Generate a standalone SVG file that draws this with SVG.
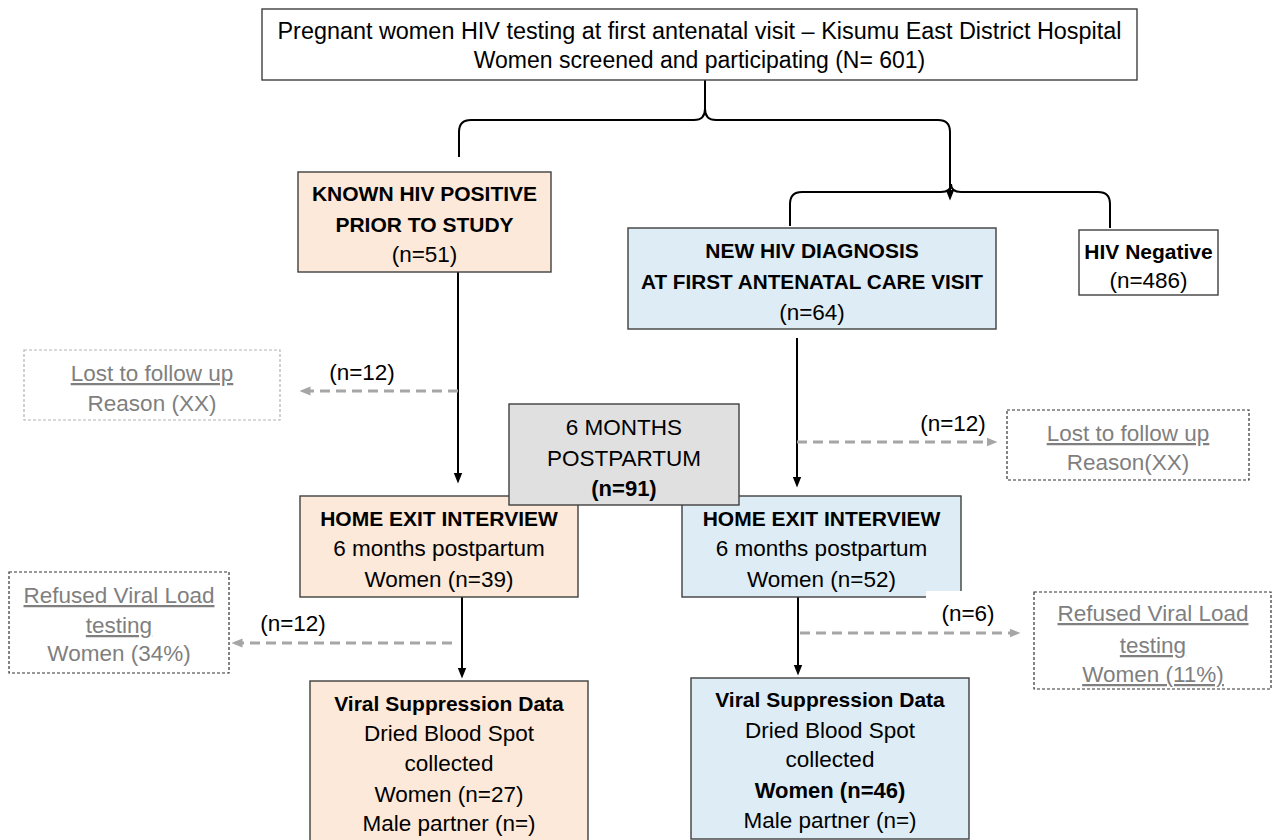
<svg xmlns="http://www.w3.org/2000/svg" width="1278" height="840" viewBox="0 0 1278 840">
<defs>
<style>
text{font-family:"Liberation Sans",Arial,sans-serif;font-size:22.5px;fill:#000;text-anchor:middle}
.b{font-weight:bold;font-size:21px}
.g{fill:#7f7f7f}
.u{text-decoration:underline}
.box{stroke:#3f3f3f;stroke-width:1.4}
.peach{fill:#fde9d9}
.blue{fill:#deedf5}
.white{fill:#fff}
.grey{fill:#e0e0e0}
.dl{fill:#fff;stroke:#b3b3b3;stroke-width:1.2;stroke-dasharray:3 2}
.dd{fill:#fff;stroke:#333;stroke-width:1.2;stroke-dasharray:3 2}
.solid{fill:none;stroke:#000;stroke-width:2}
.dash{fill:none;stroke:#a6a6a6;stroke-width:3;stroke-dasharray:10 6}
</style>
<marker id="ab" viewBox="0 0 10 10" refX="5" refY="5" markerUnits="userSpaceOnUse" markerWidth="11" markerHeight="11" orient="auto">
<path d="M0,1 L10,5 L0,9 z" fill="#000"/>
</marker>
<marker id="ag" viewBox="0 0 10 10" refX="5" refY="5" markerUnits="userSpaceOnUse" markerWidth="11" markerHeight="11" orient="auto">
<path d="M0,1 L10,5 L0,9 z" fill="#a6a6a6"/>
</marker>
</defs>
<rect width="1278" height="840" fill="#fff"/>

<g id="connectors">
<path class="solid" d="M705,80 V109 Q705,120 694,120 H471 Q459,120 459,132 V157"/>
<path class="solid" d="M705,109 Q705,120 716,120 H938 Q950,120 950,132 V195" marker-end="url(#ab)"/>
<path class="solid" d="M951,184 Q951,192 941,192 H802 Q790,192 790,204 V226"/>
<path class="solid" d="M951,184 Q951,192 961,192 H1098 Q1110,192 1110,204 V228"/>
<path class="solid" d="M458,272 V478" marker-end="url(#ab)"/>
<path class="dash" d="M458,391 H305" marker-end="url(#ag)"/>
<path class="solid" d="M797,338 V482" marker-end="url(#ab)"/>
<path class="dash" d="M797,442 H992" marker-end="url(#ag)"/>
<path class="solid" d="M462,592 V673" marker-end="url(#ab)"/>
<path class="dash" d="M452,643 H237" marker-end="url(#ag)"/>
<path class="solid" d="M798,587 V670" marker-end="url(#ab)"/>
<path class="dash" d="M800,633 H1015" marker-end="url(#ag)"/>
<text x="362" y="380">(n=12)</text>
<text x="953" y="431">(n=12)</text>
<text x="293" y="631">(n=12)</text>
<text x="968" y="621">(n=6)</text>
</g>

<g id="top">
<rect class="box white" x="262" y="9" width="875" height="71"/>
<text x="699.5" y="39" style="font-size:23px" textLength="844" lengthAdjust="spacingAndGlyphs">Pregnant women HIV testing at first antenatal visit – Kisumu East District Hospital</text>
<text x="699.5" y="68" style="font-size:23px">Women screened and participating (N= 601)</text>
</g>

<g id="known">
<rect class="box peach" x="298" y="172" width="253" height="100"/>
<text class="b" x="424.5" y="201">KNOWN HIV POSITIVE</text>
<text class="b" x="424.5" y="232">PRIOR TO STUDY</text>
<text x="424.5" y="262">(n=51)</text>
</g>

<g id="newdx">
<rect class="box blue" x="628" y="228" width="368" height="101"/>
<text class="b" x="812" y="258">NEW HIV DIAGNOSIS</text>
<text class="b" x="812" y="289" textLength="342" lengthAdjust="spacingAndGlyphs">AT FIRST ANTENATAL CARE VISIT</text>
<text x="812" y="320">(n=64)</text>
</g>

<g id="negative">
<rect class="box white" x="1079" y="230" width="139" height="65"/>
<text class="b" x="1148.5" y="259">HIV Negative</text>
<text x="1148.5" y="288">(n=486)</text>
</g>

<g id="lost-left">
<rect class="dl" x="24" y="350" width="256" height="70"/>
<text class="g u" x="152" y="381">Lost to follow up</text>
<text class="g" x="152" y="411">Reason (XX)</text>
</g>

<g id="lost-right">
<rect class="dd" x="1007" y="410" width="242" height="70"/>
<text class="g u" x="1128" y="441">Lost to follow up</text>
<text class="g" x="1128" y="470">Reason(XX)</text>
</g>

<g id="home-left">
<rect class="box peach" x="300" y="496" width="278" height="101"/>
<text class="b" x="439" y="526">HOME EXIT INTERVIEW</text>
<text x="439" y="556">6 months postpartum</text>
<text x="439" y="587">Women (n=39)</text>
</g>

<g id="home-right">
<rect class="box blue" x="682" y="496" width="279" height="101"/>
<text class="b" x="821.5" y="526">HOME EXIT INTERVIEW</text>
<text x="821.5" y="556">6 months postpartum</text>
<text x="821.5" y="587">Women (n=52)</text>
<rect x="926" y="591" width="40" height="10" fill="#fff"/>
</g>

<g id="six-months">
<rect class="box grey" x="509" y="404" width="230" height="101"/>
<text x="624" y="435">6 MONTHS</text>
<text x="624" y="466">POSTPARTUM</text>
<text class="b" x="624" y="496" style="font-size:22px">(n=91)</text>
</g>

<g id="refused-left">
<rect class="dd" x="9" y="572" width="220" height="101"/>
<text class="g u" x="119" y="603">Refused Viral Load</text>
<text class="g u" x="119" y="633">testing</text>
<text class="g" x="119" y="661">Women (34%)</text>
</g>

<g id="refused-right">
<rect class="dd" x="1034" y="592" width="237" height="97"/>
<text class="g u" x="1153" y="621">Refused Viral Load</text>
<text class="g u" x="1153" y="653">testing</text>
<text class="g u" x="1153" y="682">Women (11%)</text>
</g>

<g id="viral-left">
<rect class="box peach" x="310" y="681" width="278" height="166"/>
<text class="b" x="449" y="711">Viral Suppression Data</text>
<text x="449" y="741">Dried Blood Spot</text>
<text x="449" y="771">collected</text>
<text x="449" y="802">Women (n=27)</text>
<text x="449" y="831">Male partner (n=)</text>
</g>

<g id="viral-right">
<rect class="box blue" x="691" y="678" width="278" height="161"/>
<text class="b" x="830" y="707">Viral Suppression Data</text>
<text x="830" y="738">Dried Blood Spot</text>
<text x="830" y="767">collected</text>
<text class="b" x="830" y="798" style="font-size:22px">Women (n=46)</text>
<text x="830" y="828">Male partner (n=)</text>
</g>
</svg>
